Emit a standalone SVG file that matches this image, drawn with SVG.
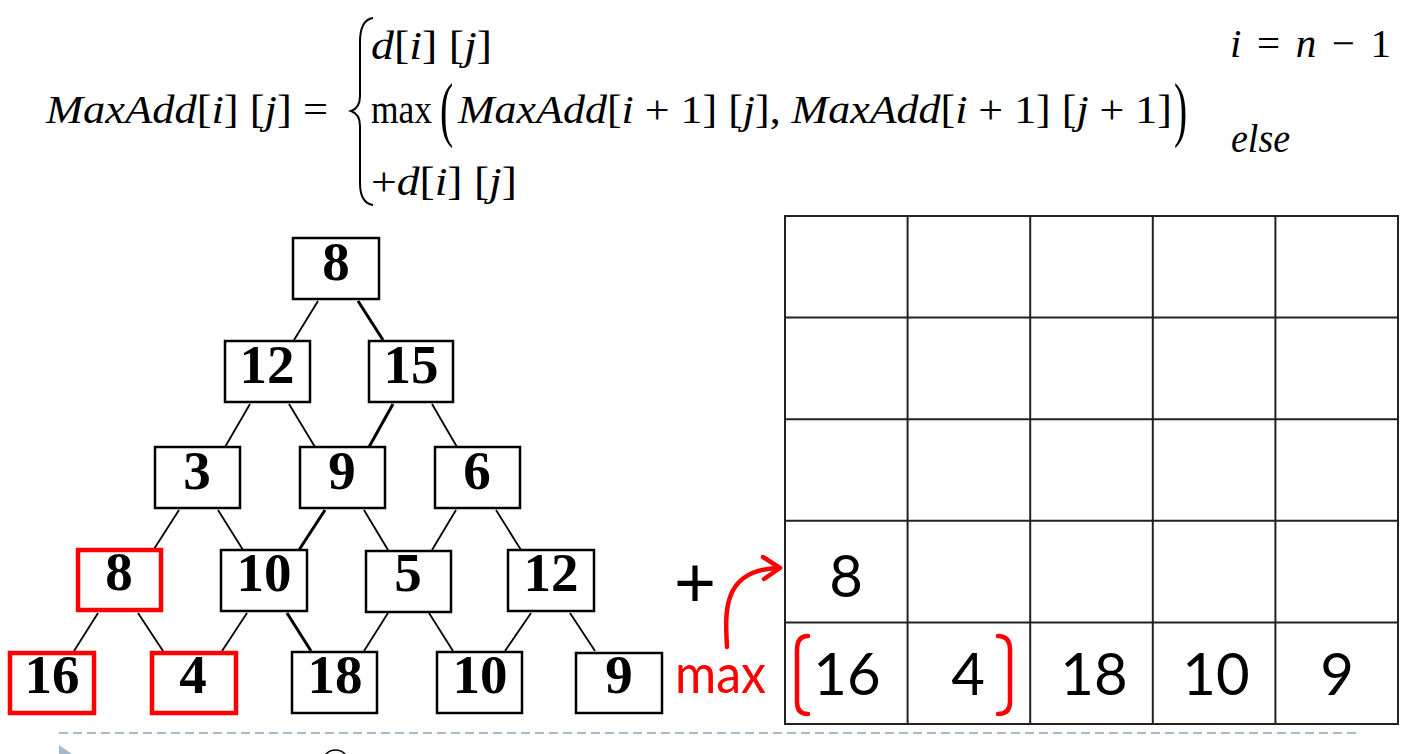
<svg xmlns="http://www.w3.org/2000/svg" width="1416" height="754" viewBox="0 0 1416 754">
<style>
.f{font-family:"Liberation Serif","Times New Roman",serif;font-size:41px;fill:#000}
.it{font-style:italic}
.nb{font-family:"Liberation Serif","Times New Roman",serif;font-weight:bold;font-size:55px;text-anchor:middle;fill:#000}
.box{fill:#fff;stroke:#000;stroke-width:2.5}
.rbox{fill:#fff;stroke:#f00;stroke-width:4.5}
.ln{stroke:#000;stroke-width:1.8;fill:none}
.th{stroke:#000;stroke-width:3;fill:none}
.g{font-family:Lato,"Liberation Sans",sans-serif;font-size:58px;text-anchor:middle;fill:#000}
.grid{stroke:#222;stroke-width:2;fill:none}
.red{stroke:#f00;stroke-width:4.5;fill:none;stroke-linecap:round;stroke-linejoin:round}
</style>
<rect width="1416" height="754" fill="#fff"/>

<g id="formula">
<text class="f" x="46" y="123" textLength="282" lengthAdjust="spacingAndGlyphs"><tspan class="it">MaxAdd</tspan>[<tspan class="it">i</tspan>] [<tspan class="it">j</tspan>]  =</text>
<path d="M373,18 Q360,20 360,42 L360,96 Q360,108 351,111 Q360,114 360,126 L360,183 Q360,203 373,205" fill="none" stroke="#000" stroke-width="2"/>
<text class="f" x="371" y="59" textLength="121" lengthAdjust="spacingAndGlyphs"><tspan class="it">d</tspan>[<tspan class="it">i</tspan>] [<tspan class="it">j</tspan>]</text>
<text class="f" x="371" y="123" textLength="61" lengthAdjust="spacingAndGlyphs">max</text>
<text class="f" transform="translate(440,133) scale(0.55,1)" x="0" y="0" style="font-size:72px">(</text>
<text class="f" x="458" y="123" textLength="714" lengthAdjust="spacingAndGlyphs"><tspan class="it">MaxAdd</tspan>[<tspan class="it">i</tspan> + 1] [<tspan class="it">j</tspan>], <tspan class="it">MaxAdd</tspan>[<tspan class="it">i</tspan> + 1] [<tspan class="it">j</tspan> + 1]</text>
<text class="f" transform="translate(1174,133) scale(0.55,1)" x="0" y="0" style="font-size:72px">)</text>
<text class="f" x="371" y="195" textLength="146" lengthAdjust="spacingAndGlyphs">+<tspan class="it">d</tspan>[<tspan class="it">i</tspan>] [<tspan class="it">j</tspan>]</text>
<text class="f" x="1230" y="57" textLength="161" lengthAdjust="spacing"><tspan class="it">i</tspan> = <tspan class="it">n</tspan> − 1</text>
<text class="f it" x="1231" y="152" textLength="59" lengthAdjust="spacingAndGlyphs">else</text>
</g>

<g id="connectors">
<line class="ln" x1="318" y1="301" x2="294" y2="340"/>
<line class="th" x1="358" y1="301" x2="383" y2="340"/>
<line class="ln" x1="250" y1="404" x2="225" y2="447"/>
<line class="ln" x1="289" y1="404" x2="315" y2="447"/>
<line class="th" x1="393" y1="404" x2="369" y2="447"/>
<line class="ln" x1="432" y1="404" x2="457" y2="447"/>
<line class="ln" x1="179" y1="510" x2="154" y2="549"/>
<line class="ln" x1="218" y1="510" x2="243" y2="550"/>
<line class="th" x1="325" y1="510" x2="299" y2="550"/>
<line class="ln" x1="364" y1="510" x2="388" y2="550"/>
<line class="ln" x1="456" y1="510" x2="432" y2="550"/>
<line class="ln" x1="496" y1="510" x2="521" y2="550"/>
<line class="ln" x1="98" y1="613" x2="74" y2="651"/>
<line class="ln" x1="138" y1="613" x2="163" y2="651"/>
<line class="ln" x1="247" y1="613" x2="222" y2="651"/>
<line class="th" x1="287" y1="613" x2="311" y2="651"/>
<line class="ln" x1="388" y1="613" x2="364" y2="651"/>
<line class="ln" x1="429" y1="613" x2="453" y2="651"/>
<line class="ln" x1="531" y1="613" x2="505" y2="651"/>
<line class="ln" x1="570" y1="613" x2="595" y2="651"/>
</g>

<g id="n0"><rect class="box" x="293" y="238" width="86" height="61"/><text class="nb" x="336" y="280">8</text></g>
<g id="n1a"><rect class="box" x="225" y="341" width="85" height="61"/><text class="nb" x="267" y="383">12</text></g>
<g id="n1b"><rect class="box" x="369" y="341" width="84" height="61"/><text class="nb" x="411" y="383">15</text></g>
<g id="n2a"><rect class="box" x="155" y="447" width="85" height="61"/><text class="nb" x="197" y="489">3</text></g>
<g id="n2b"><rect class="box" x="300" y="447" width="85" height="61"/><text class="nb" x="342" y="489">9</text></g>
<g id="n2c"><rect class="box" x="435" y="447" width="85" height="61"/><text class="nb" x="477" y="489">6</text></g>
<g id="n3a"><rect class="rbox" x="78" y="550" width="83" height="60"/><text class="nb" x="119" y="590">8</text></g>
<g id="n3b"><rect class="box" x="221" y="550" width="86" height="61"/><text class="nb" x="264" y="591">10</text></g>
<g id="n3c"><rect class="box" x="366" y="551" width="85" height="61"/><text class="nb" x="408" y="591">5</text></g>
<g id="n3d"><rect class="box" x="508" y="550" width="86" height="61"/><text class="nb" x="551" y="591">12</text></g>
<g id="n4a"><rect class="rbox" x="10" y="653" width="84" height="60"/><text class="nb" x="52" y="693">16</text></g>
<g id="n4b"><rect class="rbox" x="152" y="653" width="84" height="60"/><text class="nb" x="193" y="693">4</text></g>
<g id="n4c"><rect class="box" x="292" y="652" width="85" height="61"/><text class="nb" x="335" y="693">18</text></g>
<g id="n4d"><rect class="box" x="437" y="652" width="85" height="61"/><text class="nb" x="480" y="693">10</text></g>
<g id="n4e"><rect class="box" x="576" y="653" width="86" height="60"/><text class="nb" x="619" y="693">9</text></g>

<g id="table">
<rect class="grid" x="785" y="216" width="613" height="508"/>
<line class="grid" x1="907.6" y1="216" x2="907.6" y2="724"/>
<line class="grid" x1="1030.2" y1="216" x2="1030.2" y2="724"/>
<line class="grid" x1="1152.8" y1="216" x2="1152.8" y2="724"/>
<line class="grid" x1="1275.4" y1="216" x2="1275.4" y2="724"/>
<line class="grid" x1="785" y1="317.6" x2="1398" y2="317.6"/>
<line class="grid" x1="785" y1="419.2" x2="1398" y2="419.2"/>
<line class="grid" x1="785" y1="520.8" x2="1398" y2="520.8"/>
<line class="grid" x1="785" y1="622.4" x2="1398" y2="622.4"/>
<text class="g" x="846" y="597">8</text>
<text class="g" x="847" y="695">16</text>
<text class="g" x="968" y="695">4</text>
<text class="g" x="1094" y="695">18</text>
<text class="g" x="1216" y="695">10</text>
<text class="g" x="1337" y="695">9</text>
</g>

<g id="annotation">
<text x="695" y="607" style="font-family:'Liberation Sans',Arial,sans-serif;font-size:72px;text-anchor:middle" fill="#000">+</text>
<text x="675" y="693" textLength="91" lengthAdjust="spacingAndGlyphs" style="font-family:Lato,'Liberation Sans',sans-serif;font-size:54px" fill="#f00">max</text>
<path class="red" d="M727,647 C725,612 722,570 778,568"/>
<path class="red" d="M763,557 L780,568 L764,579"/>
<path class="red" d="M808,636 Q797,636 797,650 L797,702 Q797,714 808,714"/>
<path class="red" d="M998,636 Q1010,636 1010,650 L1010,702 Q1010,714 998,714"/>
</g>

<g id="footer">
<line x1="59" y1="733" x2="1356" y2="733" stroke="#a6b9cd" stroke-width="2" stroke-dasharray="9 5"/>
<polygon points="59,745 72,754 59,763" fill="#a6b9cd"/>
<circle cx="335.5" cy="763" r="13" fill="none" stroke="#000" stroke-width="1.5"/>
</g>
</svg>
